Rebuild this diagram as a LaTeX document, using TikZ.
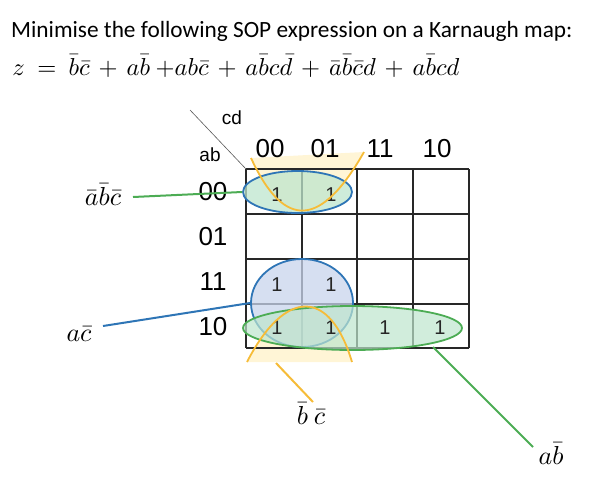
\documentclass[tikz,border=0pt]{standalone}
\usepackage{fontspec}
\setmainfont{Carlito}
\newfontfamily\arialfont{Liberation Sans}
\usetikzlibrary{shapes.geometric}
\definecolor{kmblue}{RGB}{46,117,182}
\definecolor{kmgreen}{RGB}{76,172,84}
\definecolor{kmyellow}{RGB}{246,188,56}
\definecolor{kmyfill}{RGB}{255,242,204}
\definecolor{kmgfill}{RGB}{190,230,205}
\definecolor{kmbfill}{RGB}{200,212,236}
\definecolor{kmgrid}{RGB}{40,40,40}
\tikzset{
  hdr/.style={font=\arialfont\fontsize{26}{28}\selectfont, inner sep=0pt},
  small/.style={font=\arialfont\fontsize{19}{21}\selectfont, inner sep=0pt},
  one/.style={font=\arialfont\fontsize{20}{22}\selectfont, inner sep=0pt, text=black!85},
  lbl/.style={font=\fontsize{10}{12}\selectfont, scale=2.6, inner sep=0pt},
  loop/.style={ellipse, draw, line width=1.8pt, inner sep=0pt},
  conn/.style={line width=2pt},
}
\begin{document}
\begin{tikzpicture}[x=1pt,y=-1pt]
\useasboundingbox (0,0) rectangle (610,482);
% title
\node[anchor=base west, inner sep=0pt, font=\fontsize{23.3}{26}\selectfont] (title) at (11,37) {Minimise the following SOP expression on a Karnaugh map:};
\node[anchor=base west, inner sep=0pt, font=\fontsize{10}{12}\selectfont, scale=2.45] (expr) at (12,75)
 {\medmuskip=6.5mu $z\ =\ \bar b\bar c + a\bar b\ {+}ab\bar c + a\bar b c\bar d + \bar a\bar b\bar c d + a\bar b c d$};
% yellow cups (fills)
\fill[kmyfill, fill opacity=0.8] (251,158) .. controls (285,232) and (322,226) .. (364,152) -- cycle;
\fill[kmyfill, fill opacity=0.8] (247,362) .. controls (285,288) and (330,288) .. (352,362) -- cycle;
% grid
\foreach \x in {246,302,357,413,469} \draw[kmgrid, line width=1.2pt] (\x,169) -- (\x,348);
\foreach \y in {169,214,259,304,348} \draw[kmgrid, line width=1.2pt] (246,\y) -- (469,\y);
% diagonal
\coordinate (dtl) at (190,110);
\coordinate (dbr) at (246,169);
\draw[gray!70!black, line width=0.6pt] (dtl) -- (dbr);
\node[small] (cd) at (232,118) {cd};
\node[small] (ab) at (210,155) {ab};
% headers
\node[hdr] (c1) at (270,149) {00};
\node[hdr] (c2) at (325,149) {01};
\node[hdr] (c3) at (380,149) {11};
\node[hdr] (c4) at (437,149) {10};
\node[hdr] (r1) at (213,192) {00};
\node[hdr] (r2) at (213,237) {01};
\node[hdr] (r3) at (213,282) {11};
\node[hdr] (r4) at (213,327) {10};
% loops
\node[loop, kmblue, fill=kmgfill, fill opacity=0.75, minimum width=109pt, minimum height=42pt] (gA) at (297.5,192) {};
\node[loop, kmblue, fill=kmbfill, fill opacity=0.75, minimum width=102pt, minimum height=88pt] (gB) at (302,303) {};
\node[loop, kmgreen, fill=kmgfill, fill opacity=0.7, minimum width=219pt, minimum height=44pt] (gC) at (352.5,328) {};
% ones
\node[one] (o11) at (277,195) {1};
\node[one] (o12) at (331,195) {1};
\node[one] (o31) at (277,285) {1};
\node[one] (o32) at (331,285) {1};
\node[one] (o41) at (277,328) {1};
\node[one] (o42) at (331,328) {1};
\node[one] (o43) at (385,328) {1};
\node[one] (o44) at (440,328) {1};
% yellow curves
\draw[kmyellow, line width=1.8pt] (251,158) .. controls (285,232) and (322,226) .. (364,152);
\draw[kmyellow, line width=1.8pt] (247,362) .. controls (285,288) and (330,288) .. (352,362);
% labels
\node[lbl] (l1) at (103,195) {$\bar a\bar b\bar c$};
\node[lbl] (l2) at (79,334) {$a\bar c$};
\node[lbl] (l3) at (311,414) {$\bar b\ \bar c$};
\node[lbl] (l4) at (551,454) {$a\bar b$};
% connectors
\coordinate (yb) at (276,363);
\coordinate (yl) at (313,402);
\coordinate (ge) at (433,347);
\coordinate (gl) at (533,447);
\coordinate (l1e) at (133,197);
\coordinate (l2e) at (103,326);
\draw[conn, kmgreen] (l1e) -- (gA.west);
\draw[conn, kmblue] (l2e) -- (gB.west);
\draw[conn, kmyellow] (yb) -- (yl);
\draw[conn, kmgreen] (ge) -- (gl);
\end{tikzpicture}
\end{document}
